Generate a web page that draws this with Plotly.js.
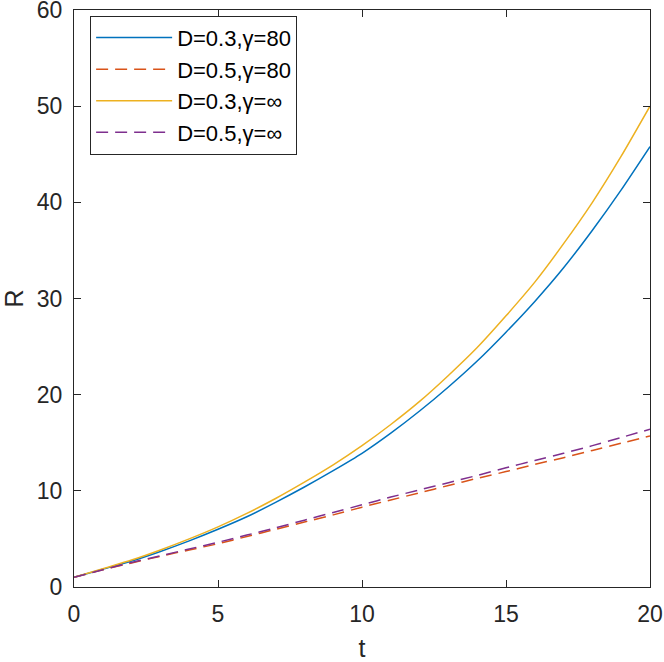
<!DOCTYPE html>
<html>
<head>
<meta charset="utf-8">
<script src="https://cdn.plot.ly/plotly-3.0.1.min.js"></script>
<style>
  html, body { margin: 0; padding: 0; background: white; }
  #chart { width: 664px; height: 662px; }
</style>
</head>
<body>
<div id="chart"></div>
<script>
// time axis, shared by every curve
var t = [0, 1, 2, 3, 4, 5, 6, 7, 8, 9, 10, 11, 12, 13, 14, 15, 16, 17, 18, 19, 20];

// R(t)
var rD03g80 = [1.0, 1.85, 2.7, 3.7, 4.8, 6.0, 7.3, 8.8, 10.4, 12.1, 13.9,
               16.0, 18.3, 20.8, 23.5, 26.5, 29.7, 33.2, 37.1, 41.3, 45.8];
var rD05g80 = [1.0, 1.8, 2.5, 3.2, 3.85, 4.5, 5.25, 6.0, 6.75, 7.5, 8.3,
               9.05, 9.8, 10.55, 11.3, 12.0, 12.75, 13.45, 14.2, 14.95, 15.7];
var rD03gInf = [1.0, 1.9, 2.8, 3.85, 5.0, 6.25, 7.65, 9.2, 10.9, 12.7, 14.7,
                16.9, 19.3, 22.0, 24.9, 28.2, 31.7, 35.7, 40.0, 44.8, 50.0];
var rD05gInf = [1.0, 1.8, 2.55, 3.25, 3.95, 4.65, 5.4, 6.15, 6.95, 7.75, 8.55,
                9.35, 10.1, 10.85, 11.6, 12.4, 13.15, 13.9, 14.7, 15.55, 16.4];

var seriesNames = ['D=0.3,\u03b3=80', 'D=0.5,\u03b3=80', 'D=0.3,\u03b3=\u221e', 'D=0.5,\u03b3=\u221e'];

var xTicks = [0, 5, 10, 15, 20];
var yTicks = [0, 10, 20, 30, 40, 50, 60];

var axisColor = '#262626';
var fontFamily = '"Liberation Sans", Arial, Helvetica, sans-serif';

function curve(y, name, color, dash) {
    return {
        x: t,
        y: y,
        name: name,
        type: 'scatter',
        mode: 'lines',
        line: { color: color, width: 1.5, dash: dash, shape: 'spline', smoothing: 0.6 }
    };
}

var traces = [
    curve(rD03g80, seriesNames[0], '#0072BD', 'solid'),
    curve(rD05g80, seriesNames[1], '#D95319', '12px,7px'),
    curve(rD03gInf, seriesNames[2], '#EDB120', 'solid'),
    curve(rD05gInf, seriesNames[3], '#7E2F8E', '12px,7px')
];

var axisBase = {
    showgrid: false,
    zeroline: false,
    showline: true,
    linecolor: axisColor,
    linewidth: 1,
    mirror: 'ticks',
    ticks: 'inside',
    ticklen: 7,
    tickwidth: 1,
    tickcolor: axisColor,
    ticklabeloverflow: 'allow',
    automargin: false,
    tickfont: { family: fontFamily, size: 23, color: axisColor },
    fixedrange: true
};

var layout = {
    width: 664,
    height: 662,
    paper_bgcolor: 'white',
    plot_bgcolor: 'white',
    margin: { l: 74, r: 14, t: 10, b: 75, pad: 0 },
    font: { family: fontFamily, color: axisColor },
    xaxis: Object.assign({}, axisBase, {
        range: [0, 20],
        tickvals: xTicks,
        ticktext: xTicks.map(String),
        ticklabelstandoff: 6,
        title: { text: 't', font: { family: fontFamily, size: 25, color: axisColor }, standoff: 18 }
    }),
    yaxis: Object.assign({}, axisBase, {
        range: [0, 60],
        tickvals: yTicks,
        ticktext: yTicks.map(String),
        ticklabelstandoff: 6,
        title: { text: 'R', font: { family: fontFamily, size: 25, color: axisColor }, standoff: 18 }
    }),
    showlegend: true,
    legend: {
        x: 0.028,
        y: 0.99,
        xanchor: 'left',
        yanchor: 'top',
        bgcolor: 'white',
        bordercolor: axisColor,
        borderwidth: 1,
        itemwidth: 76,
        tracegroupgap: 0,
        font: { family: fontFamily, size: 22, color: '#000000' }
    }
};

Plotly.newPlot('chart', traces, layout, { displayModeBar: false, staticPlot: true });
</script>
</body>
</html>
